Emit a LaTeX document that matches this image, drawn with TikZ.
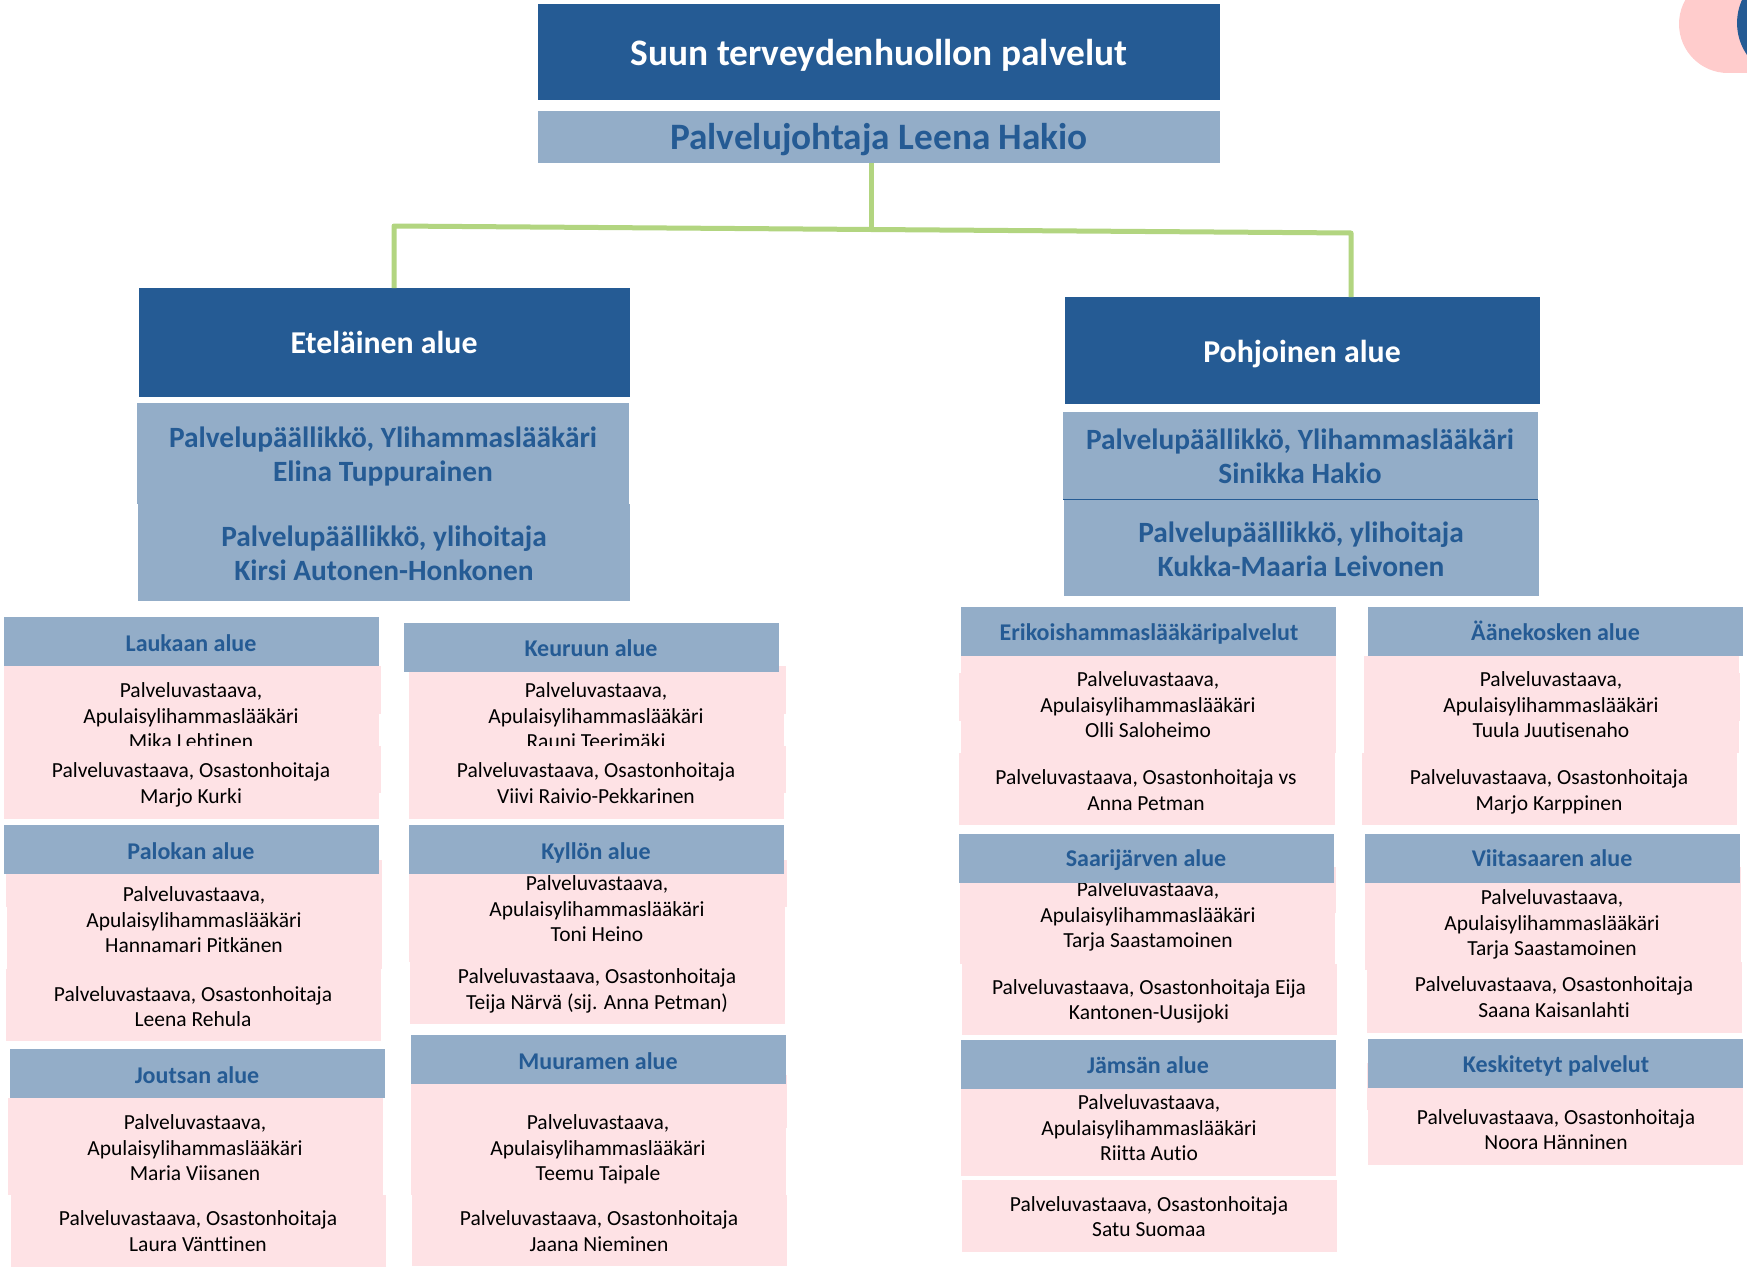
\documentclass[tikz,border=0pt]{standalone}
\usepackage{fontspec}
\setmainfont{Carlito}[Ligatures=NoCommon]
\definecolor{navy}{HTML}{255B94}
\definecolor{steel}{HTML}{93ADC8}
\definecolor{blush}{HTML}{FEE2E5}
\definecolor{corner}{HTML}{FFCCCC}
\definecolor{leaf}{HTML}{B2D580}
\tikzset{
 boxbase/.style={rectangle,inner sep=0pt,outer sep=0pt,draw=none},
 navybox/.style={boxbase,fill=navy},
 steelbox/.style={boxbase,fill=steel},
 pinkbox/.style={boxbase,fill=blush},
 txtbase/.style={inner sep=0pt,outer sep=0pt,align=center},
 titletxt/.style={txtbase,yshift=-4.5pt,text=white,font=\bfseries\fontsize{37.4}{42}\selectfont},
 regiontxt/.style={txtbase,yshift=-3.5pt,text=white,font=\bfseries\fontsize{31.8}{36}\selectfont},
 leadtxt/.style={txtbase,yshift=-4.5pt,text=navy,font=\bfseries\fontsize{37.3}{42}\selectfont},
 mgrtxt/.style={txtbase,yshift=-3.5pt,text=navy,font=\bfseries\fontsize{29.4}{34.5}\selectfont},
 headtxt/.style={txtbase,yshift=-2.5pt,text=navy,font=\bfseries\fontsize{24}{28}\selectfont},
 bodytxt/.style={txtbase,yshift=-2.2pt,text=black,font=\fontsize{21.5}{25.6}\selectfont},
 link/.style={draw=leaf,line width=5pt,line cap=butt,line join=round}
}
% name, x1, y1, x2, y2, style
\newcommand\rbox[6]{\node[#6,minimum width={#4-#2},minimum height={#5-#3}] (#1) at ({(#2+#4)/2},{(#3+#5)/2}) {};}
% name, cx, cy, style, text
\newcommand\rtxt[5]{\node[#4] (#1) at (#2,#3) {\strut #5\strut};}
% thin pink offset strip
\newcommand\strip[4]{\fill[blush] (#1,#2) rectangle (#3,#4);}
% name, x1, y1, x2, y2, cx, cy, text  (pink box with its text)
\newcommand\pink[8]{\rbox{#1}{#2}{#3}{#4}{#5}{pinkbox}\rtxt{#1t}{#6}{#7}{bodytxt}{#8}}
% name, x1, y1, x2, y2, cx, cy, text  (area header)
\newcommand\head[8]{\rbox{#1}{#2}{#3}{#4}{#5}{steelbox}\rtxt{#1t}{#6}{#7}{headtxt}{#8}}
\newcommand\plv{Palveluvastaava,\\Apulaisylihammaslääkäri\\}
\newcommand\osa{Palveluvastaava, Osastonhoitaja\\}
\begin{document}
\begin{tikzpicture}[x=1pt,y=-1pt]
\useasboundingbox (0,0) rectangle (1747,1268);
\begin{scope}
\clip (0,0) rectangle (1747,1268);
\fill[white] (0,0) rectangle (1747,1268);
% corner decoration
\fill[corner,rounded corners=49pt] (1679,-25) rectangle (1830,73);
\fill[navy] (1793,23) circle (56);

% connectors
\coordinate (jl) at (394,226);
\coordinate (jm) at (871,229.5);
\coordinate (jr) at (1351,233);
% top
\rbox{top}{538}{4}{1220}{100}{navybox}
\rtxt{topt}{879}{53}{titletxt}{Suun terveydenhuollon palvelut}
\rbox{lead}{538}{111}{1220}{163}{steelbox}
\rtxt{leadt}{879}{137}{leadtxt}{Palvelujohtaja Leena Hakio}
% south
\rbox{south}{139}{288}{630}{397}{navybox}
\rtxt{southt}{384}{343}{regiontxt}{Eteläinen alue}
\rbox{sa}{137}{403}{629}{504}{steelbox}
\rtxt{sat}{383}{454}{mgrtxt}{Palvelupäällikkö, Ylihammaslääkäri\\Elina Tuppurainen}
\rbox{sb}{138}{504}{630}{601}{steelbox}
\rtxt{sbt}{384}{553}{mgrtxt}{Palvelupäällikkö, ylihoitaja\\Kirsi Autonen-Honkonen}
% north
\rbox{north}{1065}{297}{1540}{404}{navybox}
\rtxt{northt}{1302}{352}{regiontxt}{Pohjoinen alue}
\rbox{na}{1063}{412}{1538}{499.5}{steelbox}
\rtxt{nat}{1300}{456}{mgrtxt}{Palvelupäällikkö, Ylihammaslääkäri\\Sinikka Hakio}
\rbox{nb}{1064}{499.5}{1539}{596}{steelbox}
\rtxt{nbt}{1301}{549}{mgrtxt}{Palvelupäällikkö, ylihoitaja\\Kukka-Maaria Leivonen}
\draw[navy,line width=0.6pt] (na.south west) -- (na.south east);

\draw[link] (lead.south -| jm) -- (jm);
\draw[link] (south.north -| jl) -- (jl) -- (jm) -- (jr) -- (north.north -| jr);

% Laukaan
\strip{379}{666}{381}{714}
\pink{la}{4}{666}{379}{746}{191}{716}{\plv Mika Lehtinen}
\strip{379}{746}{381}{793}
\pink{lb}{4}{746}{379}{819}{191}{783}{\osa Marjo Kurki}
\head{lh}{4}{617}{379}{666}{191}{643}{Laukaan alue}
% Keuruun
\strip{784}{666}{786}{714}
\pink{ka}{409}{666}{784}{746}{596}{716}{\plv Rauni Teerimäki}
\strip{784}{746}{786}{793}
\pink{kb}{409}{746}{784}{819}{596}{783}{\osa Viivi Raivio-Pekkarinen}
\head{kh}{404}{623}{779}{672}{591}{648}{Keuruun alue}
% Palokan
\strip{381}{860}{382}{969}
\strip{6}{860}{7}{907}
\pink{pa}{7}{860}{381}{969}{194}{920}{\plv Hannamari Pitkänen}
\pink{pb}{6}{969}{381}{1041}{193}{1006.5}{\osa Leena Rehula}
\head{ph}{4}{825}{379}{874}{191}{851}{Palokan alue}
% Kyllön
\strip{785}{860}{787}{907}
\pink{ya}{409}{860}{785}{962}{597}{909}{\plv Toni Heino}
\pink{yb}{410}{962}{785}{1024}{597}{989}{Palveluvastaava, Osastonhoitaja\\Teija Närvä (sij. Anna Petman)}
\head{yh}{409}{825}{784}{874}{596}{851}{Kyllön alue}
% Joutsan
\pink{ja}{8}{1098}{383}{1195}{195}{1148}{\plv Maria Viisanen}
\pink{jb}{11}{1195}{386}{1267}{198}{1231}{\osa Laura Vänttinen}
\head{jh}{10}{1049}{385}{1098}{197}{1075}{Joutsan alue}
% Muuramen
\strip{786}{1075}{787}{1128}
\pink{ma}{411}{1075}{786}{1195}{598}{1148}{\plv Teemu Taipale}
\pink{mb}{412}{1195}{787}{1266}{599}{1231}{\osa Jaana Nieminen}
\head{mh}{411}{1035}{786}{1084}{598}{1061}{Muuramen alue}
% Erikois
\strip{959}{673}{961}{721}
\pink{ea}{961}{656}{1336}{753}{1148}{705}{\plv Olli Saloheimo}
\pink{eb}{959}{753}{1335}{825}{1146}{790}{Palveluvastaava, Osastonhoitaja vs\\Anna Petman}
\head{eh}{961}{607}{1336}{656}{1149}{632}{Erikoishammaslääkäripalvelut}
% Aanekoski
\strip{1739}{673}{1740}{721}
\pink{aa}{1364}{656}{1739}{753}{1551}{705}{\plv Tuula Juutisenaho}
\pink{ab}{1362}{753}{1737}{825}{1549}{790}{\osa Marjo Karppinen}
\head{ah}{1368}{607}{1743}{656}{1555.5}{632}{Äänekosken alue}
% Saarijarvi
\strip{1335}{867}{1336}{913}
\pink{sja}{960}{867}{1335}{964}{1148}{915}{\plv Tarja Saastamoinen}
\pink{sjb}{962}{964}{1337}{1034.5}{1149}{999.5}{Palveluvastaava, Osastonhoitaja Eija\\Kantonen-Uusijoki}
\head{sjh}{959}{834}{1334}{883}{1146}{858}{Saarijärven alue}
% Viitasaari
\pink{va}{1365}{867}{1741}{970}{1552}{923}{\plv Tarja Saastamoinen}
\pink{vb}{1367}{962}{1742}{1033}{1554}{997}{\osa Saana Kaisanlahti}
\head{vh}{1365}{834}{1740}{883}{1552}{858}{Viitasaaren alue}
% Jamsa
\pink{ma2}{961}{1089}{1336}{1176}{1149}{1128}{\plv Riitta Autio}
\pink{mb2}{962}{1180}{1337}{1251.5}{1149}{1216.5}{\osa Satu Suomaa}
\head{mh2}{961}{1040}{1336}{1089}{1148}{1065.6}{Jämsän alue}
% Keskitetyt
\strip{1367}{1063}{1368}{1110}
\pink{ke}{1368}{1088}{1743}{1165}{1556}{1129.5}{\osa Noora Hänninen}
\head{keh}{1368}{1039}{1743}{1088}{1556}{1064.7}{Keskitetyt palvelut}
\end{scope}
\end{tikzpicture}
\end{document}
